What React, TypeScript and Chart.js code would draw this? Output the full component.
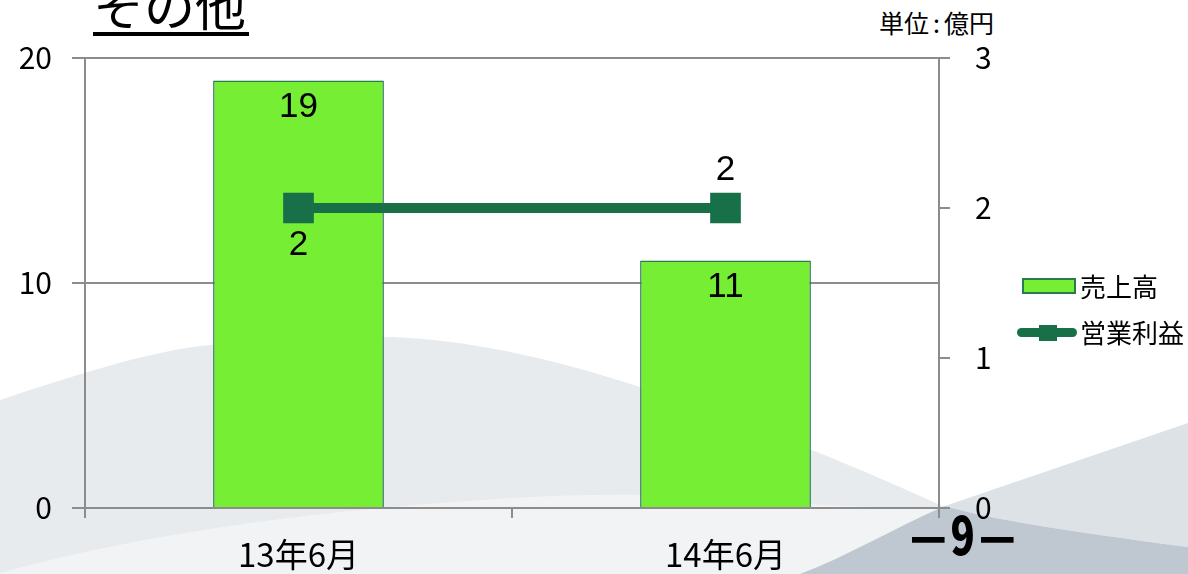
import React, { useEffect, useRef } from "react";
import { Chart, registerables } from "chart.js";

Chart.register(...registerables);

// ---- data ----
const categories = ["13年6月", "14年6月"];
const salesValues = [19, 11];
const profitValues = [2, 2];
const leftTicks = [0, 10, 20];
const rightTicks = [0, 1, 2, 3];
const seriesNames = ["売上高", "営業利益"];
const profitLabelSides = ["below", "above"];

const BAR_FILL = "#76ee34";
const BAR_BORDER = "#2a7a50";
const LINE_COLOR = "#177048";
const AXIS_COLOR = "#8c8c8c";
const CJK = "'Noto Sans CJK JP', 'Noto Sans', sans-serif";
const LATIN = "'Liberation Sans', Arial, sans-serif";

const valueLabels = {
  id: "valueLabels",
  afterDatasetsDraw(chart: any) {
    const ctx = chart.ctx;
    ctx.save();
    ctx.fillStyle = "#000";
    ctx.font = `35px ${LATIN}`;
    ctx.textAlign = "center";
    ctx.textBaseline = "middle";
    const barMeta = chart.getDatasetMeta(0);
    barMeta.data.forEach((el: any, i: number) => {
      ctx.fillText(String(salesValues[i]), el.x, el.y + 27);
    });
    const lineMeta = chart.getDatasetMeta(1);
    lineMeta.data.forEach((el: any, i: number) => {
      const dy = profitLabelSides[i] === "below" ? 37 : -38;
      ctx.fillText(String(profitValues[i]), el.x, el.y + dy);
    });
    ctx.restore();
  },
};

function Background() {
  return (
    <svg
      width={1188}
      height={574}
      style={{ position: "absolute", left: 0, top: 0 }}
    >
      <rect x={0} y={0} width={1188} height={574} fill="#ffffff" />
      <path
        d="M0,400 C60,380 150,350 210,345 C280,338 340,335 390,337 C520,342 640,385 760,430 C830,456 880,478 945,507 L900,574 L0,574 Z"
        fill="#e8ebee"
      />
      <path
        d="M0,573 C100,545 230,522 380,508 C480,499 560,494 640,495 C760,500 860,510 945,507 L900,574 L0,574 Z"
        fill="#f1f3f5"
      />
      <path
        d="M945,506 L1188,423 L1188,547 C1100,535 1000,522 945,506 Z"
        fill="#dde2e6"
      />
      <path
        d="M800,574 C850,555 900,525 945,506 C1000,522 1100,535 1188,547 L1188,574 Z"
        fill="#bfc8d0"
      />
    </svg>
  );
}

export default function App() {
  const canvasRef = useRef<HTMLCanvasElement | null>(null);

  useEffect(() => {
    if (!canvasRef.current) return;
    const chart = new Chart(canvasRef.current, {
      type: "bar",
      data: {
        labels: categories,
        datasets: [
          {
            type: "bar",
            label: seriesNames[0],
            data: salesValues,
            backgroundColor: BAR_FILL,
            borderColor: BAR_BORDER,
            borderWidth: 1.5,
            barPercentage: 0.4,
            categoryPercentage: 1,
            yAxisID: "y",
            order: 2,
          } as any,
          {
            type: "line",
            label: seriesNames[1],
            data: profitValues,
            borderColor: LINE_COLOR,
            backgroundColor: LINE_COLOR,
            borderWidth: 10,
            pointStyle: "rect",
            pointRadius: 21.7,
            pointBorderWidth: 0,
            pointBackgroundColor: LINE_COLOR,
            yAxisID: "y1",
            order: 1,
          } as any,
        ],
      },
      options: {
        responsive: false,
        animation: false,
        layout: { padding: { left: 0, top: 58, right: 189, bottom: 0 } },
        plugins: {
          legend: { display: false },
          tooltip: { enabled: false },
        },
        scales: {
          x: {
            offset: true,
            grid: {
              offset: true,
              drawOnChartArea: false,
              drawTicks: true,
              tickLength: 10,
              color: AXIS_COLOR,
              lineWidth: 2,
            },
            border: { display: true, color: AXIS_COLOR, width: 2 },
            ticks: {
              color: "#000",
              padding: 17,
              font: { family: CJK, size: 33 },
              maxRotation: 0,
            },
            afterFit: (s: any) => {
              s.height = 66;
            },
          },
          y: {
            position: "left",
            min: 0,
            max: 20,
            afterBuildTicks: (s: any) => {
              s.ticks = leftTicks.map((v) => ({ value: v }));
            },
            grid: { color: AXIS_COLOR, lineWidth: 2, tickLength: 13 },
            border: { display: true, color: AXIS_COLOR, width: 2 },
            ticks: {
              color: "#000",
              padding: 20,
              font: { family: CJK, size: 30 },
            },
            afterFit: (s: any) => {
              s.width = 85;
            },
          },
          y1: {
            position: "right",
            min: 0,
            max: 3,
            afterBuildTicks: (s: any) => {
              s.ticks = rightTicks.map((v) => ({ value: v }));
            },
            grid: {
              drawOnChartArea: false,
              color: AXIS_COLOR,
              lineWidth: 2,
              tickLength: 11,
            },
            border: { display: true, color: AXIS_COLOR, width: 2 },
            ticks: {
              color: "#000",
              padding: 25,
              font: { family: CJK, size: 30 },
            },
            afterFit: (s: any) => {
              s.width = 60;
            },
          },
        },
      },
      plugins: [valueLabels],
    });
    return () => chart.destroy();
  }, []);

  return (
    <div
      style={{
        position: "fixed",
        left: 0,
        top: 0,
        width: 1188,
        height: 574,
        overflow: "hidden",
        background: "#fff",
        fontFamily: CJK,
      }}
    >
      <Background />
      <div
        style={{
          position: "absolute",
          left: 93,
          top: -21,
          fontSize: 51,
          lineHeight: 1,
          color: "#000",
          whiteSpace: "nowrap",
        }}
      >
        その他
      </div>
      <div
        style={{
          position: "absolute",
          left: 93,
          top: 32,
          width: 156,
          height: 4,
          background: "#000",
        }}
      />
      <div
        style={{
          position: "absolute",
          right: 1188 - 994,
          top: 6,
          fontSize: 25,
          lineHeight: "32px",
          color: "#000",
          whiteSpace: "nowrap",
        }}
      >
        単位<span style={{ margin: "0 4px" }}>:</span>億円
      </div>
      <canvas
        ref={canvasRef}
        width={1188}
        height={574}
        style={{ position: "absolute", left: 0, top: 0 }}
      />
      {/* legend */}
      <div
        style={{
          position: "absolute",
          left: 1022,
          top: 278,
          width: 50,
          height: 12,
          background: BAR_FILL,
          border: `2px solid ${BAR_BORDER}`,
        }}
      />
      <div
        style={{
          position: "absolute",
          left: 1080,
          top: 268,
          fontSize: 26,
          lineHeight: "36px",
          color: "#000",
          whiteSpace: "nowrap",
        }}
      >
        {seriesNames[0]}
      </div>
      <div
        style={{
          position: "absolute",
          left: 1017,
          top: 328,
          width: 60,
          height: 9,
          borderRadius: 5,
          background: LINE_COLOR,
        }}
      />
      <div
        style={{
          position: "absolute",
          left: 1039,
          top: 325,
          width: 18,
          height: 16,
          background: LINE_COLOR,
        }}
      />
      <div
        style={{
          position: "absolute",
          left: 1080,
          top: 314,
          fontSize: 26,
          lineHeight: "36px",
          color: "#000",
          whiteSpace: "nowrap",
        }}
      >
        {seriesNames[1]}
      </div>
      {/* page number */}
      <div
        style={{
          position: "absolute",
          left: 910,
          top: 507,
          fontSize: 40,
          fontWeight: 900,
          lineHeight: "40px",
          color: "#000",
          whiteSpace: "nowrap",
          transform: "scaleY(1.3)",
          transformOrigin: "left top",
          letterSpacing: 4,
        }}
      >
        —9—
      </div>
    </div>
  );
}
